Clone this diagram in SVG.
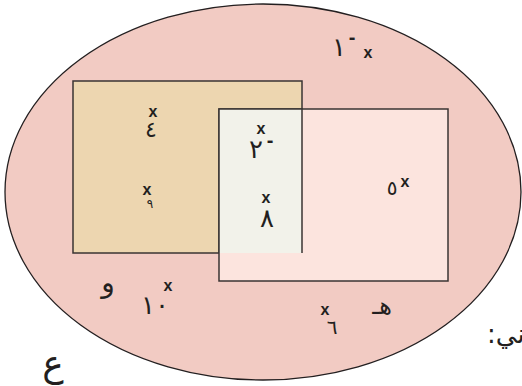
<svg xmlns="http://www.w3.org/2000/svg" width="522" height="386" viewBox="0 0 522 386">
<style>
.t{font-family:"DejaVu Sans",sans-serif;fill:#231f20;}
.x{font-family:"Liberation Sans",sans-serif;font-weight:bold;font-size:16px;fill:#231f20;text-anchor:middle;}
.d{font-family:"Liberation Sans",sans-serif;font-weight:bold;font-size:20px;fill:#231f20;text-anchor:middle;}
.n{font-size:26px;text-anchor:middle;}
.b{stroke:#3a3433;stroke-width:1.5;}
</style>
<rect width="522" height="386" fill="#ffffff"/>
<g id="universe">
<ellipse cx="263" cy="192" rx="258" ry="188" fill="#f2cbc3" stroke="#231f20" stroke-width="1.3"/>
</g>
<g id="setA">
<rect x="73" y="81" width="229" height="172" fill="#edd6b0" class="b"/>
</g>
<g id="setB">
<rect x="219" y="109" width="229" height="172" fill="#fce4de" class="b"/>
</g>
<g id="intersection">
<rect x="219" y="109" width="83" height="144" fill="#f2f2ea"/>
<path d="M219 253 V109 H302 V253" fill="none" class="b"/>
</g>
<g id="elements">
<text class="t n" x="339" y="56">١</text>
<text class="d" x="352" y="44">-</text>
<text class="x" x="368" y="58">x</text>
<text class="x" x="153" y="117">x</text>
<text class="t" x="151" y="137" font-size="22" text-anchor="middle">٤</text>
<text class="x" x="261" y="134">x</text>
<text class="t n" x="256" y="158">٢</text>
<text class="d" x="270" y="147">-</text>
<text class="x" x="147" y="195">x</text>
<text class="t" x="150" y="208" font-size="12" text-anchor="middle">٩</text>
<text class="x" x="266" y="203">x</text>
<text class="t n" x="267" y="227">٨</text>
<text class="t" x="392" y="195" font-size="20" text-anchor="middle">٥</text>
<text class="x" x="405" y="187">x</text>
<text class="t" x="108" y="292" font-size="28" text-anchor="middle">و</text>
<text class="t n" x="155" y="314">١٠</text>
<text class="x" x="168" y="291">x</text>
<text class="x" x="325" y="315">x</text>
<text class="t" x="332" y="334" font-size="20" text-anchor="middle">٦</text>
<text class="t" x="382" y="314" font-size="24" text-anchor="middle">هـ</text>
</g>
<g id="labels">
<text class="t" x="53" y="376" font-size="36" text-anchor="middle">ع</text>
<text class="t" x="487" y="343" font-size="26" direction="rtl" text-anchor="end">ني:</text>
</g>
</svg>
